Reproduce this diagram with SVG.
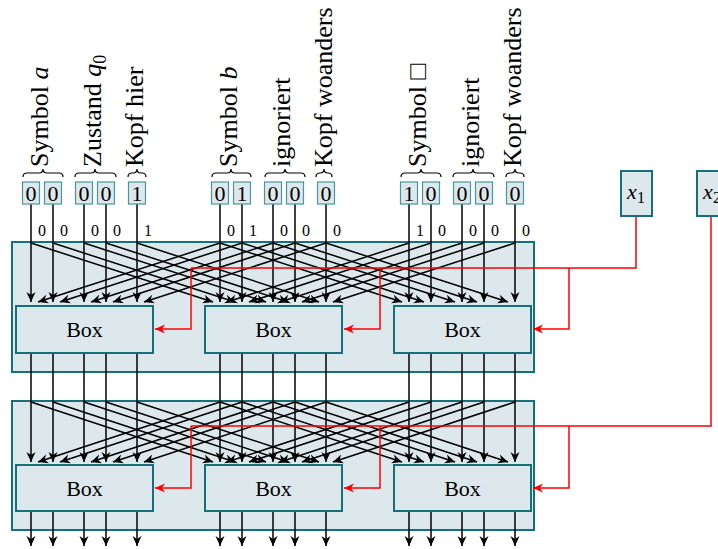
<svg xmlns="http://www.w3.org/2000/svg" width="718" height="549" viewBox="0 0 718 549">
<style>
.frame{fill:#dde8ec;stroke:#16707c;stroke-width:2}
.box{fill:#dde8ec;stroke:#16707c;stroke-width:2}
.bit{fill:#dde8ec;stroke:#4a96a0;stroke-width:1.2}
.bt{font-family:"Liberation Serif",serif;font-size:22px;text-anchor:middle;fill:#000}
.sm{font-family:"Liberation Serif",serif;font-size:16px;fill:#000}
.lab{font-family:"Liberation Serif","DejaVu Serif",serif;font-size:26px;fill:#000}
.brace{fill:none;stroke:#000;stroke-width:1.2}
.w{stroke:#000;stroke-width:1.5;fill:none;marker-end:url(#ah)}
.r{stroke:#f00;stroke-width:1.5;fill:none}
.ra{stroke:#f00;stroke-width:1.5;fill:none;marker-end:url(#rh)}
</style>
<defs>
<marker id="ah" markerUnits="userSpaceOnUse" markerWidth="12" markerHeight="10" viewBox="-11 -5 12 10" refX="0" refY="0" orient="auto"><path d="M0,0 L-10,-4.5 L-7,0 L-10,4.5 Z" fill="#000"/></marker>
<marker id="rh" markerUnits="userSpaceOnUse" markerWidth="12" markerHeight="10" viewBox="-11 -5 12 10" refX="0" refY="0" orient="auto"><path d="M0,0 L-10,-4.5 L-7,0 L-10,4.5 Z" fill="#f00"/></marker>
</defs>

<g id="layer1"><rect class="frame" x="12" y="242" width="522" height="130"/></g>
<g id="layer2"><rect class="frame" x="12" y="401" width="522" height="129"/></g>

<g id="labels">
<g id="lab-symbol-a"><path class="brace" d="M23,177 q0,-4 4,-4 L39,173 q4,0 4,-4 q0,4 4,4 L59,173 q4,0 4,4"/><text class="lab" transform="translate(48,167) rotate(-90)">Symbol <tspan font-style="italic">a</tspan></text></g>
<g id="lab-zustand"><path class="brace" d="M75,177 q0,-4 4,-4 L91,173 q4,0 4,-4 q0,4 4,4 L112,173 q4,0 4,4"/><text class="lab" transform="translate(101,167) rotate(-90)">Zustand <tspan font-style="italic">q</tspan><tspan font-size="18" dy="5">0</tspan></text></g>
<g id="lab-kopf-hier"><path class="brace" d="M128,177 q0,-4 4,-4 L133,173 q4,0 4,-4 q0,4 4,4 L142,173 q4,0 4,4"/><text class="lab" transform="translate(143,167) rotate(-90)">Kopf hier</text></g>
<g id="lab-symbol-b"><path class="brace" d="M212,177 q0,-4 4,-4 L227,173 q4,0 4,-4 q0,4 4,4 L247,173 q4,0 4,4"/><text class="lab" transform="translate(237,167) rotate(-90)">Symbol <tspan font-style="italic">b</tspan></text></g>
<g id="lab-ignoriert-1"><path class="brace" d="M265,177 q0,-4 4,-4 L281,173 q4,0 4,-4 q0,4 4,4 L301,173 q4,0 4,4"/><text class="lab" transform="translate(290,167) rotate(-90)">ignoriert</text></g>
<g id="lab-kopf-woanders-1"><path class="brace" d="M316,177 q0,-4 4,-4 L320,173 q4,0 4,-4 q0,4 4,4 L328,173 q4,0 4,4"/><text class="lab" transform="translate(332,167) rotate(-90)">Kopf woanders</text></g>
<g id="lab-symbol-blank"><path class="brace" d="M401,177 q0,-4 4,-4 L417,173 q4,0 4,-4 q0,4 4,4 L437,173 q4,0 4,4"/><text class="lab" transform="translate(426,167) rotate(-90)">Symbol □</text></g>
<g id="lab-ignoriert-2"><path class="brace" d="M453,177 q0,-4 4,-4 L469,173 q4,0 4,-4 q0,4 4,4 L490,173 q4,0 4,4"/><text class="lab" transform="translate(479,167) rotate(-90)">ignoriert</text></g>
<g id="lab-kopf-woanders-2"><path class="brace" d="M506,177 q0,-4 4,-4 L511,173 q4,0 4,-4 q0,4 4,4 L520,173 q4,0 4,4"/><text class="lab" transform="translate(521,167) rotate(-90)">Kopf woanders</text></g>
</g>

<g id="connectors">
<!-- input verticals row 1 -->
<path class="w" d="M31,204 V302"/><path class="w" d="M53,204 V302"/><path class="w" d="M84,204 V302"/><path class="w" d="M106,204 V302"/><path class="w" d="M137,204 V302"/>
<path class="w" d="M220,204 V302"/><path class="w" d="M242,204 V302"/><path class="w" d="M273,204 V302"/><path class="w" d="M295,204 V302"/><path class="w" d="M326,204 V302"/>
<path class="w" d="M409,204 V302"/><path class="w" d="M431,204 V302"/><path class="w" d="M462,204 V302"/><path class="w" d="M484,204 V302"/><path class="w" d="M515,204 V302"/>
<!-- diagonals row 1 -->
<path class="w" d="M31,243 L213,302"/><path class="w" d="M53,243 L235,302"/><path class="w" d="M84,243 L266,302"/><path class="w" d="M106,243 L288,302"/><path class="w" d="M137,243 L319,302"/>
<path class="w" d="M220,243 L38,302"/><path class="w" d="M242,243 L60,302"/><path class="w" d="M273,243 L91,302"/><path class="w" d="M295,243 L113,302"/><path class="w" d="M326,243 L144,302"/>
<path class="w" d="M220,243 L402,302"/><path class="w" d="M242,243 L424,302"/><path class="w" d="M273,243 L455,302"/><path class="w" d="M295,243 L477,302"/><path class="w" d="M326,243 L508,302"/>
<path class="w" d="M409,243 L227,302"/><path class="w" d="M431,243 L249,302"/><path class="w" d="M462,243 L280,302"/><path class="w" d="M484,243 L302,302"/><path class="w" d="M515,243 L333,302"/>
<!-- verticals row 2 -->
<path class="w" d="M31,353 V462"/><path class="w" d="M53,353 V462"/><path class="w" d="M84,353 V462"/><path class="w" d="M106,353 V462"/><path class="w" d="M137,353 V462"/>
<path class="w" d="M220,353 V462"/><path class="w" d="M242,353 V462"/><path class="w" d="M273,353 V462"/><path class="w" d="M295,353 V462"/><path class="w" d="M326,353 V462"/>
<path class="w" d="M409,353 V462"/><path class="w" d="M431,353 V462"/><path class="w" d="M462,353 V462"/><path class="w" d="M484,353 V462"/><path class="w" d="M515,353 V462"/>
<!-- diagonals row 2 -->
<path class="w" d="M31,402 L213,462"/><path class="w" d="M53,402 L235,462"/><path class="w" d="M84,402 L266,462"/><path class="w" d="M106,402 L288,462"/><path class="w" d="M137,402 L319,462"/>
<path class="w" d="M220,402 L38,462"/><path class="w" d="M242,402 L60,462"/><path class="w" d="M273,402 L91,462"/><path class="w" d="M295,402 L113,462"/><path class="w" d="M326,402 L144,462"/>
<path class="w" d="M220,402 L402,462"/><path class="w" d="M242,402 L424,462"/><path class="w" d="M273,402 L455,462"/><path class="w" d="M295,402 L477,462"/><path class="w" d="M326,402 L508,462"/>
<path class="w" d="M409,402 L227,462"/><path class="w" d="M431,402 L249,462"/><path class="w" d="M462,402 L280,462"/><path class="w" d="M484,402 L302,462"/><path class="w" d="M515,402 L333,462"/>
<!-- outputs -->
<path class="w" d="M31,511 V546"/><path class="w" d="M53,511 V546"/><path class="w" d="M84,511 V546"/><path class="w" d="M106,511 V546"/><path class="w" d="M137,511 V546"/>
<path class="w" d="M220,511 V546"/><path class="w" d="M242,511 V546"/><path class="w" d="M273,511 V546"/><path class="w" d="M295,511 V546"/><path class="w" d="M326,511 V546"/>
<path class="w" d="M409,511 V546"/><path class="w" d="M431,511 V546"/><path class="w" d="M462,511 V546"/><path class="w" d="M484,511 V546"/><path class="w" d="M515,511 V546"/>
<!-- red control lines -->
<path class="r" d="M636,216 V268 H191"/>
<path class="ra" d="M191,268 V329 H155"/>
<path class="ra" d="M380,268 V329 H344"/>
<path class="ra" d="M569,268 V329 H533"/>
<path class="r" d="M711,216 V426 H191"/>
<path class="ra" d="M191,426 V488 H155"/>
<path class="ra" d="M380,426 V488 H344"/>
<path class="ra" d="M569,426 V488 H533"/>
</g>

<g id="wire-values">
<text class="sm" x="38" y="236">0</text><text class="sm" x="60" y="236">0</text><text class="sm" x="91" y="236">0</text><text class="sm" x="113" y="236">0</text><text class="sm" x="144" y="236">1</text>
<text class="sm" x="227" y="236">0</text><text class="sm" x="249" y="236">1</text><text class="sm" x="280" y="236">0</text><text class="sm" x="302" y="236">0</text><text class="sm" x="333" y="236">0</text>
<text class="sm" x="416" y="236">1</text><text class="sm" x="438" y="236">0</text><text class="sm" x="469" y="236">0</text><text class="sm" x="491" y="236">0</text><text class="sm" x="522" y="236">0</text>
</g>

<g id="bits">
<g id="bit-1-1"><rect class="bit" x="22.5" y="182" width="17" height="22"/><text class="bt" x="31" y="201">0</text></g>
<g id="bit-1-2"><rect class="bit" x="44.5" y="182" width="17" height="22"/><text class="bt" x="53" y="201">0</text></g>
<g id="bit-1-3"><rect class="bit" x="75.5" y="182" width="17" height="22"/><text class="bt" x="84" y="201">0</text></g>
<g id="bit-1-4"><rect class="bit" x="97.5" y="182" width="17" height="22"/><text class="bt" x="106" y="201">0</text></g>
<g id="bit-1-5"><rect class="bit" x="128.5" y="182" width="17" height="22"/><text class="bt" x="137" y="201">1</text></g>
<g id="bit-2-1"><rect class="bit" x="211.5" y="182" width="17" height="22"/><text class="bt" x="220" y="201">0</text></g>
<g id="bit-2-2"><rect class="bit" x="233.5" y="182" width="17" height="22"/><text class="bt" x="242" y="201">1</text></g>
<g id="bit-2-3"><rect class="bit" x="264.5" y="182" width="17" height="22"/><text class="bt" x="273" y="201">0</text></g>
<g id="bit-2-4"><rect class="bit" x="286.5" y="182" width="17" height="22"/><text class="bt" x="295" y="201">0</text></g>
<g id="bit-2-5"><rect class="bit" x="317.5" y="182" width="17" height="22"/><text class="bt" x="326" y="201">0</text></g>
<g id="bit-3-1"><rect class="bit" x="400.5" y="182" width="17" height="22"/><text class="bt" x="409" y="201">1</text></g>
<g id="bit-3-2"><rect class="bit" x="422.5" y="182" width="17" height="22"/><text class="bt" x="431" y="201">0</text></g>
<g id="bit-3-3"><rect class="bit" x="453.5" y="182" width="17" height="22"/><text class="bt" x="462" y="201">0</text></g>
<g id="bit-3-4"><rect class="bit" x="475.5" y="182" width="17" height="22"/><text class="bt" x="484" y="201">0</text></g>
<g id="bit-3-5"><rect class="bit" x="506.5" y="182" width="17" height="22"/><text class="bt" x="515" y="201">0</text></g>
</g>

<g id="box-1-1"><rect class="box" x="16" y="306" width="137" height="47"/><text class="bt" x="84.5" y="337">Box</text></g>
<g id="box-1-2"><rect class="box" x="205" y="306" width="137" height="47"/><text class="bt" x="273.5" y="337">Box</text></g>
<g id="box-1-3"><rect class="box" x="394" y="306" width="137" height="47"/><text class="bt" x="462.5" y="337">Box</text></g>
<g id="box-2-1"><rect class="box" x="16" y="465" width="137" height="46"/><text class="bt" x="84.5" y="496">Box</text></g>
<g id="box-2-2"><rect class="box" x="205" y="465" width="137" height="46"/><text class="bt" x="273.5" y="496">Box</text></g>
<g id="box-2-3"><rect class="box" x="394" y="465" width="137" height="46"/><text class="bt" x="462.5" y="496">Box</text></g>

<g id="x1"><rect class="box" x="621" y="171" width="31" height="45"/><text class="bt" x="636" y="199"><tspan font-style="italic">x</tspan><tspan font-size="16" dy="4">1</tspan></text></g>
<g id="x2"><rect class="box" x="697" y="171" width="44" height="45"/><text class="bt" x="712" y="199"><tspan font-style="italic">x</tspan><tspan font-size="16" dy="4">2</tspan></text></g>
</svg>
